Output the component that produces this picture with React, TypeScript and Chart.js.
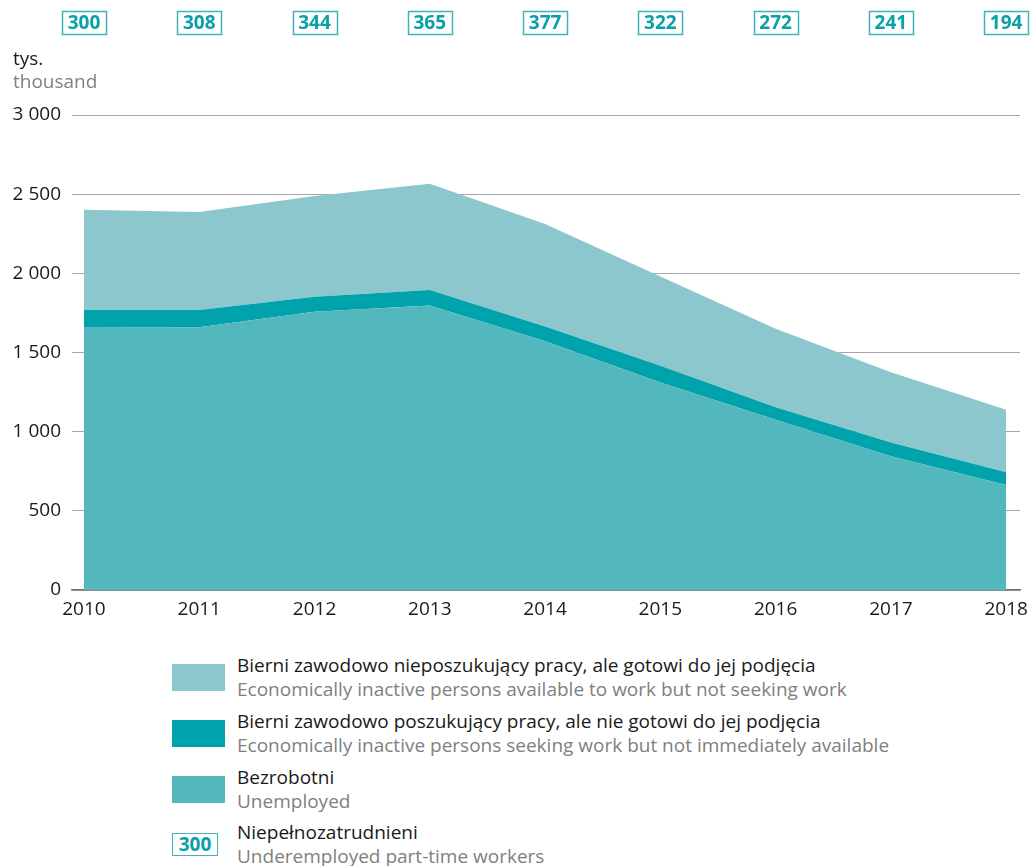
import React, { useEffect, useRef } from "react";
import { Chart, registerables } from "chart.js";

Chart.register(...registerables);

const years = ["2010", "2011", "2012", "2013", "2014", "2015", "2016", "2017", "2018"];
const unemployed = [1661, 1660, 1757, 1797, 1571, 1310, 1075, 845, 663];
const seekingNotAvailable = [108, 108, 95, 97, 94, 107, 80, 87, 80];
const availableNotSeeking = [632, 620, 636, 672, 646, 563, 495, 443, 395];
const underemployed = [300, 308, 344, 365, 377, 322, 272, 241, 194];

const C_LIGHT = "#8bc7cd";
const C_DARK = "#00a3ab";
const C_MID = "#53b8bd";
const C_TEAL_TEXT = "#0aa0a8";
const C_BOX = "#3fb3b9";

const FONT = "'Open Sans', 'Noto Sans', sans-serif";

const legendItems = [
  { pl: "Bierni zawodowo nieposzukujący pracy, ale gotowi do jej podjęcia", en: "Economically inactive persons available to work but not seeking work", color: C_LIGHT, top: 653 },
  { pl: "Bierni zawodowo poszukujący pracy, ale nie gotowi do jej podjęcia", en: "Economically inactive persons seeking work but not immediately available", color: C_DARK, top: 709 },
  { pl: "Bezrobotni", en: "Unemployed", color: C_MID, top: 765 },
];

const fmt = (v: number) => String(v).replace(/\B(?=(\d{3})+(?!\d))/g, " ");

export default function App() {
  const ref = useRef<HTMLCanvasElement | null>(null);

  useEffect(() => {
    if (!ref.current) return;
    const topPlugin = {
      id: "topBoxes",
      afterDraw(chart: any) {
        const ctx = chart.ctx;
        const xs = chart.scales.x;
        ctx.save();
        underemployed.forEach((v, i) => {
          const cx = xs.getPixelForValue(i);
          const w = 44, h = 23, y = 11;
          ctx.strokeStyle = C_BOX;
          ctx.lineWidth = 1.5;
          ctx.strokeRect(Math.round(cx - w / 2) + 0.5, y + 0.5, w, h);
          ctx.fillStyle = C_TEAL_TEXT;
          ctx.font = `bold 19px ${FONT}`;
          ctx.textAlign = "center";
          ctx.textBaseline = "middle";
          ctx.fillText(String(v), cx, y + h / 2 + 1);
        });
        ctx.textAlign = "left";
        ctx.textBaseline = "middle";
        ctx.font = `19px ${FONT}`;
        ctx.fillStyle = "#1a1a1a";
        ctx.fillText("tys.", 13, 60);
        ctx.fillStyle = "#808080";
        ctx.fillText("thousand", 13, 83);
        ctx.restore();
      },
    };

    const mk = (arr: number[]) => arr.map((y, i) => ({ x: i, y }));

    const chart = new Chart(ref.current, {
      type: "line",
      data: {
        datasets: [
          { label: "Bezrobotni", data: mk(unemployed), backgroundColor: C_MID, borderWidth: 0, pointRadius: 0, fill: "origin", tension: 0 },
          { label: "Bierni poszukujący", data: mk(seekingNotAvailable), backgroundColor: C_DARK, borderWidth: 0, pointRadius: 0, fill: "-1", tension: 0 },
          { label: "Bierni nieposzukujący", data: mk(availableNotSeeking), backgroundColor: C_LIGHT, borderWidth: 0, pointRadius: 0, fill: "-1", tension: 0 },
        ],
      },
      options: {
        animation: false,
        responsive: false,
        maintainAspectRatio: false,
        layout: { padding: { top: 115, right: 10, bottom: 0, left: 0 } },
        plugins: { legend: { display: false }, tooltip: { enabled: false } },
        scales: {
          x: {
            type: "linear",
            min: -0.104,
            max: 8.12,
            grid: { display: false, drawTicks: false },
            border: { display: true, color: "#707070", width: 1.5 },
            ticks: {
              autoSkip: false,
              padding: 8,
              color: "#1a1a1a",
              font: { family: FONT, size: 19 },
              callback: (v: any) => years[v] ?? "",
            },
            afterBuildTicks: (s: any) => {
              s.ticks = years.map((_, i) => ({ value: i }));
            },
            afterFit: (s: any) => {
              s.height = 50;
              s.paddingLeft = 0;
              s.paddingRight = 0;
            },
          },
          y: {
            stacked: true,
            min: 0,
            max: 3000,
            grid: { color: "#a6a6a6", drawTicks: false, lineWidth: 1 },
            border: { display: false },
            ticks: {
              stepSize: 500,
              padding: 11,
              color: "#1a1a1a",
              font: { family: FONT, size: 19 },
              callback: (v: any) => fmt(Number(v)),
            },
            afterFit: (s: any) => {
              s.width = 72;
              s.paddingTop = 0;
              s.paddingBottom = 0;
            },
          },
        },
      },
      plugins: [topPlugin],
    } as any);
    return () => chart.destroy();
  }, []);

  return (
    <div style={{ position: "absolute", left: 0, top: 0, width: 1030, height: 866, background: "#fff", fontFamily: FONT }}>
      <canvas ref={ref} width={1030} height={640} style={{ position: "absolute", left: 0, top: 0, width: 1030, height: 640 }} />
      {legendItems.map((it) => (
        <div key={it.pl} style={{ position: "absolute", left: 0, top: it.top, width: 1030, height: 50 }}>
          <div style={{ position: "absolute", left: 172, top: 11, width: 53, height: 27, background: it.color }} />
          <div style={{ position: "absolute", left: 237, top: 0, fontSize: 19, lineHeight: "24px", color: "#1a1a1a", whiteSpace: "nowrap" }}>{it.pl}</div>
          <div style={{ position: "absolute", left: 237, top: 24, fontSize: 19, lineHeight: "24px", color: "#808080", whiteSpace: "nowrap" }}>{it.en}</div>
        </div>
      ))}
      <div style={{ position: "absolute", left: 0, top: 820, width: 1030, height: 48 }}>
        <div style={{ position: "absolute", left: 172, top: 13, width: 44, height: 21, border: `1.5px solid ${C_BOX}`, color: C_TEAL_TEXT, fontWeight: 700, fontSize: 19, lineHeight: "21px", textAlign: "center" }}>{String(underemployed[0])}</div>
        <div style={{ position: "absolute", left: 237, top: 0, fontSize: 19, lineHeight: "24px", color: "#1a1a1a", whiteSpace: "nowrap" }}>Niepełnozatrudnieni</div>
        <div style={{ position: "absolute", left: 237, top: 24, fontSize: 19, lineHeight: "24px", color: "#808080", whiteSpace: "nowrap" }}>Underemployed part-time workers</div>
      </div>
    </div>
  );
}
